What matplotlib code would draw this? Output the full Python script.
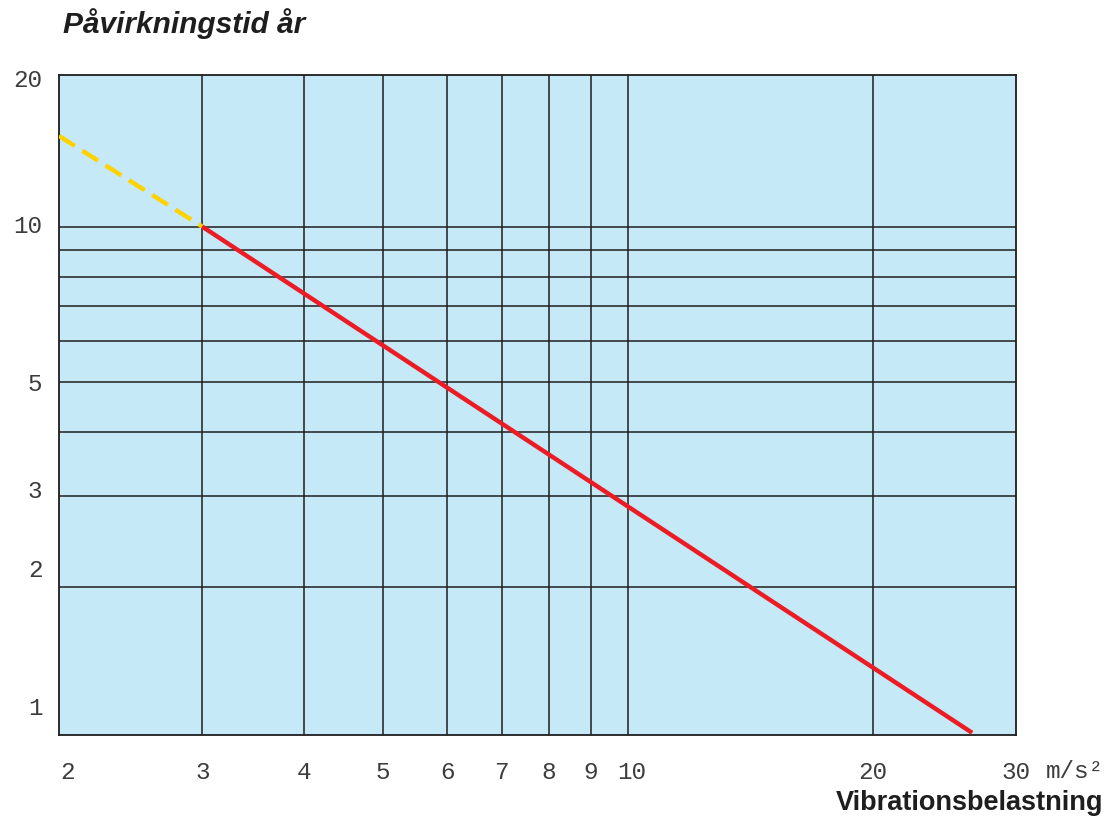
import matplotlib
matplotlib.use("Agg")
import matplotlib.pyplot as plt

# data (log-log)
grid_x = [3, 4, 5, 6, 7, 8, 9, 10, 20]
grid_y = [2, 3, 4, 5, 6, 7, 8, 9, 10]

line_x = [3, 26.5]          # measured part, red
line_y = [10, 1.04]
ext_x = [2, 3]              # extrapolated part, yellow dashed
ext_y = [15, 10]

xtick_pos = [2.05, 3, 4, 5, 6, 7, 8, 9, 10.1, 20, 30]
xtick_lab = ['2', '3', '4', '5', '6', '7', '8', '9', '10', '20', '30']
ytick_pos = [1.17, 2.17, 3.1, 5, 10.1, 19.4]
ytick_lab = ['1', '2', '3', '5', '10', '20']

mono = 'Liberation Mono'
sans = 'Liberation Sans'

fig = plt.figure(figsize=(11.16, 8.16), dpi=100)
ax = fig.add_axes([59 / 1116, 1 - 735 / 816, (1016 - 59) / 1116, (735 - 75) / 816])
ax.set_facecolor('#c6e9f8')
ax.set_xscale('log')
ax.set_yscale('log')
ax.set_xlim(2, 30)
ax.set_ylim(1.03, 19.7)

for gx in grid_x:
    ax.axvline(gx, color='#1e1e1e', lw=1.1, zorder=1)
for gy in grid_y:
    ax.axhline(gy, color='#1e1e1e', lw=1.1, zorder=1)

ax.plot(ext_x, ext_y, color='#ffd200', lw=3.2, linestyle=(0, (4.2, 2.0)),
        solid_capstyle='butt', zorder=3)
ax.plot(line_x, line_y, color='#ec1c24', lw=3.2, solid_capstyle='butt', zorder=3)

ax.xaxis.set_minor_locator(matplotlib.ticker.NullLocator())
ax.yaxis.set_minor_locator(matplotlib.ticker.NullLocator())
ax.set_xticks(xtick_pos)
ax.set_xticklabels(xtick_lab)
ax.set_yticks(ytick_pos)
ax.set_yticklabels(ytick_lab)
ax.tick_params(length=0, labelsize=17.5, labelcolor='#3c3c3c')
ax.tick_params(axis='x', pad=19)
ax.tick_params(axis='y', pad=12)
for lab in ax.get_xticklabels() + ax.get_yticklabels():
    lab.set_fontfamily(mono)

for sp in ax.spines.values():
    sp.set_color('#1e1e1e')
    sp.set_linewidth(1.3)

ax.annotate('m/s²', xy=(1, 0), xycoords='axes fraction', xytext=(30, -36),
            textcoords='offset pixels', ha='left', va='center',
            fontsize=17.5, family=mono, color='#3c3c3c')

fig.text(63 / 1116, 1 - 33 / 816, 'Påvirkningstid år', family=sans,
         fontsize=21.5, fontweight='bold', fontstyle='italic', color='#1e1e1e',
         va='baseline', ha='left')
fig.text(1103 / 1116, 1 - 810 / 816, 'Vibrationsbelastning', family=sans,
         fontsize=19.5, fontweight='bold', color='#1e1e1e',
         va='baseline', ha='right')

fig.savefig('out.png', dpi=100)
